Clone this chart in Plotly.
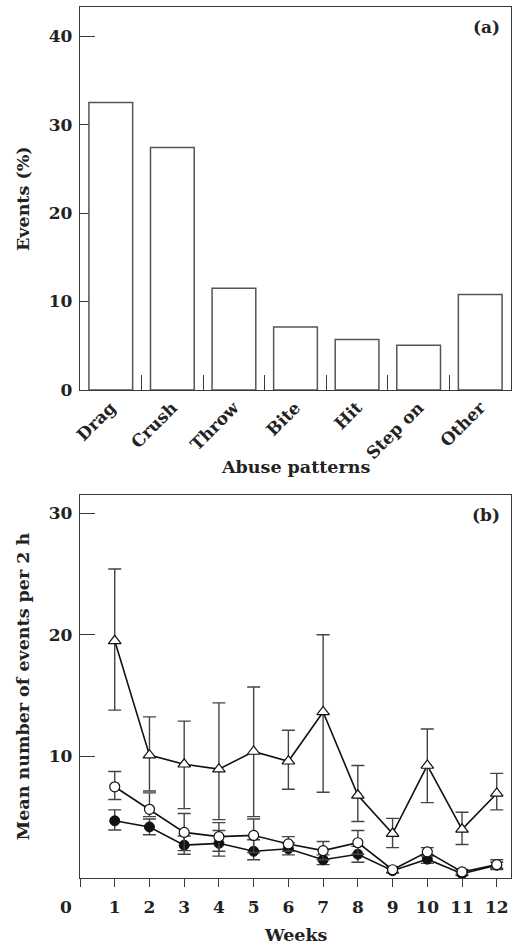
import plotly.graph_objects as go

# ---------------- data ----------------
categories = ["Drag", "Crush", "Throw", "Bite", "Hit", "Step on", "Other"]
events_pct = [32.5, 27.4, 11.5, 7.1, 5.7, 5.05, 10.8]

weeks = [1, 2, 3, 4, 5, 6, 7, 8, 9, 10, 11, 12]
week_ticktext = ["", "1", "2", "3", "4", "5", "6", "7", "8", "9", "10", "11", "12"]

tri_mean = [19.5, 10.1, 9.35, 8.95, 10.4, 9.6, 13.65, 6.8, 3.65, 9.25, 4.0, 6.95]
tri_upper = [25.4, 13.25, 12.9, 14.4, 15.7, 12.15, 20.0, 9.25, 4.9, 12.25, 5.4, 8.6]
tri_lower = [13.8, 7.15, 5.7, 4.8, 5.05, 7.3, 7.05, 4.65, 2.5, 6.2, 2.75, 5.6]

open_mean = [7.5, 5.65, 3.75, 3.4, 3.5, 2.8, 2.25, 2.9, 0.68, 2.15, 0.5, 1.1]
open_upper = [8.75, 7.0, 5.3, 4.55, 4.85, 3.4, 3.0, 3.9, 0.9, 2.5, 0.7, 1.5]
open_lower = [6.45, 5.05, 2.25, 2.2, 2.1, 2.2, 1.5, 1.95, 0.45, 1.8, 0.3, 0.7]

fill_mean = [4.7, 4.2, 2.7, 2.85, 2.2, 2.4, 1.5, 1.95, 0.6, 1.55, 0.35, 1.05]
fill_upper = [5.6, 4.85, 3.45, 3.9, 3.15, 2.9, 1.9, 2.6, 0.8, 1.9, 0.5, 1.3]
fill_lower = [3.95, 3.55, 1.95, 1.8, 1.5, 1.9, 1.1, 1.3, 0.4, 1.2, 0.2, 0.8]

# ---------------- style ----------------
FONT = "DejaVu Serif"
AX = "#3a3a3a"
tickfont = dict(family=FONT, size=17, color="#222", weight="bold")
catfont = dict(family=FONT, size=17, color="#222", weight="bold")
titlefont = dict(family=FONT, size=17.5, color="#222", weight="bold")


def err(mean, upper, lower, w=6.5):
    return dict(type="data", symmetric=False,
                array=[u - m for u, m in zip(upper, mean)],
                arrayminus=[m - l for m, l in zip(mean, lower)],
                color="#444", thickness=1.4, width=w)


fig = go.Figure()

fig.add_trace(go.Bar(
    x=categories, y=events_pct, xaxis="x", yaxis="y", width=0.71,
    marker=dict(color="white", line=dict(color="#555", width=1.5)),
    showlegend=False))

fig.add_trace(go.Scatter(
    x=weeks, y=fill_mean, xaxis="x2", yaxis="y2", mode="lines+markers",
    line=dict(color="#111", width=1.6),
    marker=dict(symbol="circle", size=10, color="#111", line=dict(color="#111", width=1)),
    error_y=err(fill_mean, fill_upper, fill_lower), showlegend=False))

fig.add_trace(go.Scatter(
    x=weeks, y=open_mean, xaxis="x2", yaxis="y2", mode="lines+markers",
    line=dict(color="#111", width=1.6),
    marker=dict(symbol="circle", size=10, color="white", line=dict(color="#111", width=1.2)),
    error_y=err(open_mean, open_upper, open_lower), showlegend=False))

fig.add_trace(go.Scatter(
    x=weeks, y=tri_mean, xaxis="x2", yaxis="y2", mode="lines+markers",
    line=dict(color="#111", width=1.6),
    marker=dict(symbol="triangle-up", size=11, color="white", line=dict(color="#111", width=1.2)),
    error_y=err(tri_mean, tri_upper, tri_lower), showlegend=False))

common_axis = dict(showline=True, linecolor=AX, linewidth=1.4, mirror=True,
                   showgrid=False, zeroline=False, tickcolor=AX, tickwidth=1.4,
                   tickfont=tickfont)

fig.update_layout(
    width=512, height=946,
    margin=dict(l=80, r=1, t=7, b=68),
    paper_bgcolor="white", plot_bgcolor="white",
    xaxis=dict(common_axis, type="category", domain=[0, 1], anchor="y",
               range=[-0.5, 6.5], ticks="inside", ticklen=15, tickson="boundaries",
               tickangle=-45, tickfont=catfont),
    yaxis=dict(common_axis, domain=[0.5604, 1], anchor="x", range=[0, 43.3],
               tickvals=[0, 10, 20, 30, 40], ticks="inside", ticklen=15,
               layer="below traces", ticklabelstandoff=3),
    xaxis2=dict(common_axis, domain=[0, 1], anchor="y2", range=[0, 12.41],
                tickvals=[0] + weeks, ticktext=week_ticktext,
                ticks="outside", ticklen=8, ticklabelstandoff=5),
    yaxis2=dict(common_axis, domain=[0, 0.4399], anchor="x2", range=[0, 31.5],
                tickvals=[10, 20, 30], ticks="inside", ticklen=15,
                ticklabelstandoff=3),
    annotations=[
        dict(text="Abuse patterns", xref="paper", yref="paper", x=0.5, y=1,
             yshift=-(466.7 - 7), showarrow=False, font=titlefont,
             xanchor="center", yanchor="middle"),
        dict(text="Events (%)", xref="paper", yref="paper", x=0, y=1,
             xshift=-(80 - 22.5), yshift=-(198.5 - 7), textangle=-90,
             showarrow=False, font=titlefont, xanchor="center", yanchor="middle"),
        dict(text="Weeks", xref="paper", yref="paper", x=0.5, y=0,
             yshift=-(935 - 878.3), showarrow=False, font=titlefont,
             xanchor="center", yanchor="middle"),
        dict(text="Mean number of events per 2 h", xref="paper", yref="paper",
             x=0, y=0, xshift=-(80 - 22.5), yshift=(878.3 - 687), textangle=-90,
             showarrow=False, font=titlefont, xanchor="center", yanchor="middle"),
        dict(text="(a)", xref="paper", yref="paper", x=1, y=1, xshift=-9, yshift=-20,
             showarrow=False, font=tickfont, xanchor="right", yanchor="middle"),
        dict(text="(b)", xref="paper", yref="paper", x=1, y=0.4399, xshift=-9,
             yshift=-20, showarrow=False, font=tickfont, xanchor="right",
             yanchor="middle"),
        dict(text="0", xref="x2", yref="paper", x=0, y=0, xshift=-14, yshift=-28.5,
             showarrow=False, font=tickfont, xanchor="center", yanchor="middle"),
    ],
)

fig.write_html(
    "out.html",
    config={"displayModeBar": False},
    post_script="document.body.style.margin='0';"
                "document.documentElement.style.overflow='hidden';"
                "document.body.style.overflow='hidden';",
)
